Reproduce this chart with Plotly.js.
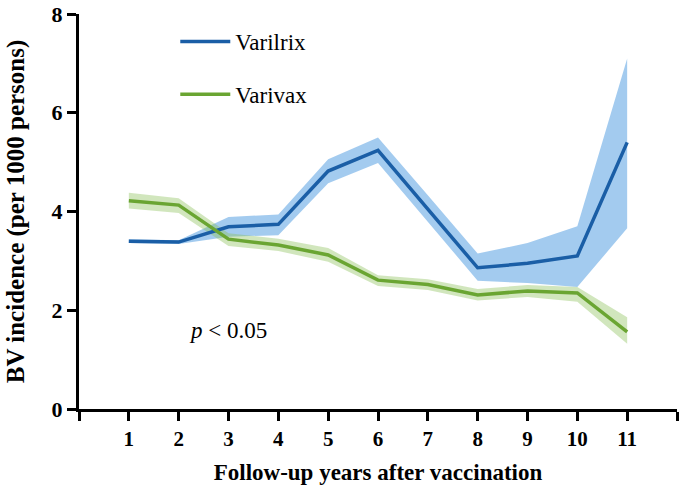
<!DOCTYPE html>
<html>
<head>
<meta charset="utf-8">
<script src="https://cdn.plot.ly/plotly-3.0.1.min.js"></script>
<style>html,body{margin:0;padding:0;background:#fff;}#chart{width:685px;height:494px;}</style>
</head>
<body>
<div id="chart"></div>
<script>
var years = [1, 2, 3, 4, 5, 6, 7, 8, 9, 10, 11];
var xTickVals = [0, 1, 2, 3, 4, 5, 6, 7, 8, 9, 10, 11, 12];
var xTickLabels = ['', '1', '2', '3', '4', '5', '6', '7', '8', '9', '10', '11', ''];
var yTickVals = [0, 2, 4, 6, 8];

var varilrixMean  = [3.40, 3.38, 3.69, 3.74, 4.82, 5.24, 4.05, 2.86, 2.95, 3.10, 5.40];
var varilrixUpper = [3.44, 3.42, 3.89, 3.94, 5.06, 5.50, 4.33, 3.15, 3.36, 3.70, 7.10];
var varilrixLower = [3.36, 3.34, 3.49, 3.52, 4.57, 4.98, 3.80, 2.60, 2.55, 2.47, 3.66];

var varivaxMean  = [4.22, 4.13, 3.44, 3.32, 3.12, 2.61, 2.52, 2.31, 2.39, 2.35, 1.56];
var varivaxUpper = [4.38, 4.27, 3.56, 3.45, 3.26, 2.71, 2.63, 2.43, 2.51, 2.47, 1.86];
var varivaxLower = [4.06, 3.97, 3.30, 3.20, 2.98, 2.49, 2.41, 2.20, 2.27, 2.17, 1.32];

function band(x, lo, hi, color) {
  return {
    x: x.concat(x.slice().reverse()),
    y: hi.concat(lo.slice().reverse()),
    type: 'scatter', mode: 'lines', fill: 'toself',
    fillcolor: color, line: {width: 0, color: 'rgba(0,0,0,0)'},
    hoverinfo: 'skip', showlegend: false
  };
}

var serif = "'Liberation Serif', serif";

var traces = [
  band(years, varilrixLower, varilrixUpper, 'rgba(62,146,222,0.48)'),
  band(years, varivaxLower, varivaxUpper, 'rgba(140,192,90,0.40)'),
  {x: years, y: varilrixMean, type: 'scatter', mode: 'lines', name: 'Varilrix',
   line: {color: '#1a5ea6', width: 3.5}, legendgroup: 'a'},
  {x: years, y: varivaxMean, type: 'scatter', mode: 'lines', name: 'Varivax',
   line: {color: '#6aa532', width: 3.5}, legendgroup: 'b'}
];

var layout = {
  width: 685, height: 494,
  margin: {l: 79, r: 8, t: 14, b: 85},
  paper_bgcolor: '#fff', plot_bgcolor: '#fff',
  font: {family: serif, color: '#000'},
  showlegend: true,
  legend: {x: 0.161, y: 0.985, xanchor: 'left', yanchor: 'top',
           font: {family: serif, size: 23, color: '#000'},
           itemwidth: 50,
           tracegroupgap: 20, traceorder: 'grouped', bgcolor: 'rgba(0,0,0,0)'},
  xaxis: {
    range: [0, 12], tickvals: xTickVals, ticktext: xTickLabels,
    showline: true, linecolor: '#000', linewidth: 3,
    ticks: 'outside', ticklen: 9, tickwidth: 3, tickcolor: '#000',
    showgrid: false, zeroline: false,
    tickfont: {family: serif, size: 21, color: '#000', weight: 'bold'},
    title: {text: '<b>Follow-up years after vaccination</b>', standoff: 14,
            font: {family: serif, size: 23, color: '#000'}}
  },
  yaxis: {
    range: [0, 8], tickvals: yTickVals,
    showline: true, linecolor: '#000', linewidth: 3,
    ticks: 'outside', ticklen: 9, tickwidth: 3, tickcolor: '#000',
    showgrid: false, zeroline: false,
    tickfont: {family: serif, size: 22, color: '#000', weight: 'bold'},
    title: {text: '<b>BV incidence (per 1000 persons)</b>', standoff: 20,
            font: {family: serif, size: 25, color: '#000'}}
  },
  annotations: [{
    x: 2.98, y: 1.6, xref: 'x', yref: 'y', showarrow: false,
    text: '<i>p</i> < 0.05', font: {family: serif, size: 23, color: '#000'}
  }]
};

Plotly.newPlot('chart', traces, layout, {displayModeBar: false, staticPlot: true});
</script>
</body>
</html>
